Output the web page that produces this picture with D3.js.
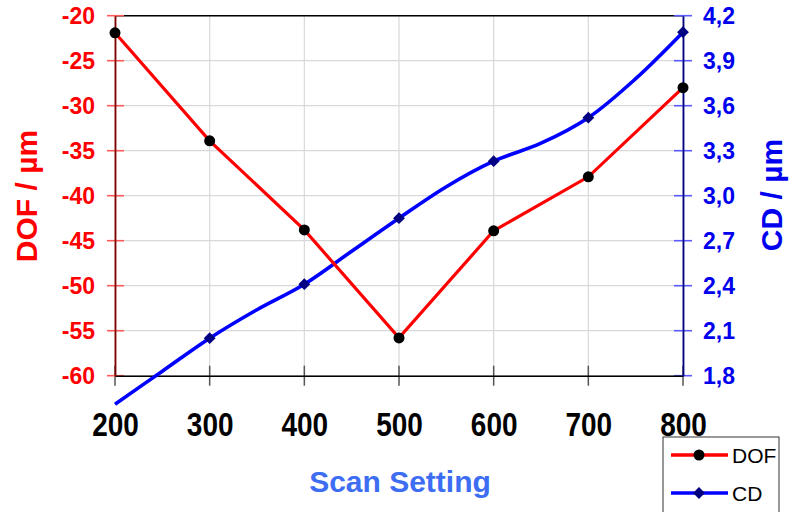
<!DOCTYPE html>
<html>
<head>
<meta charset="utf-8">
<script src="https://cdn.jsdelivr.net/npm/d3@7"></script>
<style>
  body { margin: 0; background: #fff; }
  svg { font-family: "Liberation Sans", Arial, sans-serif; }
</style>
</head>
<body>
<svg width="799" height="512"></svg>
<script>
// Data
const scan = [200, 300, 400, 500, 600, 700, 800];
const dof = [-21.9, -33.9, -43.8, -55.8, -43.9, -37.9, -28.0];

// CD curve sampled every 50, markers only at the hundreds
const cdScan = [200, 250, 300, 350, 400, 450, 500, 550, 600, 650, 700, 750, 800];
const cd = [1.61, 1.83, 2.05, 2.24, 2.41, 2.63, 2.85, 3.06, 3.23, 3.35, 3.52, 3.78, 4.09];

const xTicks = [200, 300, 400, 500, 600, 700, 800];
const dofTicks = [-60, -55, -50, -45, -40, -35, -30, -25, -20];
const cdTicks = [1.8, 2.1, 2.4, 2.7, 3.0, 3.3, 3.6, 3.9, 4.2];

const svg = d3.select("svg");
const plotL = 115, plotR = 683, plotT = 15.7, plotB = 375.7;

const x = d3.scaleLinear().domain([200, 800]).range([plotL, plotR]);
const yL = d3.scaleLinear().domain([-60, -20]).range([plotB, plotT]);
const yR = d3.scaleLinear().domain([1.8, 4.2]).range([plotB, plotT]);

// Gridlines
const grid = svg.append("g").attr("stroke", "#d9d9d9").attr("stroke-width", 1.2);
grid.selectAll(".h")
  .data(dofTicks)
  .enter()
  .append("line")
  .attr("x1", plotL).attr("x2", plotR)
  .attr("y1", (d) => yL(d)).attr("y2", (d) => yL(d));
grid.selectAll(".v")
  .data(xTicks)
  .enter()
  .append("line")
  .attr("y1", plotT).attr("y2", plotB)
  .attr("x1", (d) => x(d)).attr("x2", (d) => x(d));

// top border
svg.append("line")
  .attr("x1", plotL).attr("x2", plotR).attr("y1", plotT).attr("y2", plotT)
  .attr("stroke", "#000").attr("stroke-width", 1.5);

// Tick marks crossing the axes
svg.append("g")
  .selectAll("line")
  .data(xTicks)
  .enter()
  .append("line")
  .attr("x1", (d) => x(d)).attr("x2", (d) => x(d))
  .attr("y1", plotB - 10).attr("y2", plotB + 10)
  .attr("stroke", "#555").attr("stroke-width", 1.5);
svg.append("g")
  .selectAll("line")
  .data(dofTicks)
  .enter()
  .append("line")
  .attr("x1", plotL - 8).attr("x2", plotL + 9)
  .attr("y1", (d) => yL(d)).attr("y2", (d) => yL(d))
  .attr("stroke", "#ff5a5a").attr("stroke-width", 1.6);
svg.append("g")
  .selectAll("line")
  .data(cdTicks)
  .enter()
  .append("line")
  .attr("x1", plotR - 9).attr("x2", plotR + 9)
  .attr("y1", (d) => yR(d)).attr("y2", (d) => yR(d))
  .attr("stroke", "#5a5aff").attr("stroke-width", 1.6);

// Bottom axis
const xAxis = svg.append("g")
  .attr("transform", `translate(0,${plotB})`)
  .call(d3.axisBottom(x).tickValues(xTicks).tickSize(0).tickPadding(0).tickFormat((d) => String(d)));
xAxis.select(".domain").attr("stroke", "#000").attr("stroke-width", 1.5);
xAxis.selectAll(".tick line").remove();
xAxis.selectAll(".tick text")
  .attr("y", 0).attr("dy", 0)
  .attr("transform", "translate(0,60) scale(1,1.18)")
  .attr("fill", "#000")
  .attr("font-size", 28)
  .attr("font-weight", "bold");

// Left axis (DOF)
const lAxis = svg.append("g")
  .attr("transform", `translate(${plotL},0)`)
  .call(d3.axisLeft(yL).tickValues(dofTicks).tickSize(0).tickFormat((d) => String(d)));
lAxis.select(".domain").attr("stroke", "#800000").attr("stroke-width", 1.8);
lAxis.selectAll(".tick line").remove();
lAxis.selectAll(".tick text")
  .attr("x", -20)
  .attr("dy", "0.36em")
  .attr("fill", "#ff0000")
  .attr("font-size", 23)
  .attr("font-weight", "bold");

// Right axis (CD)
const rAxis = svg.append("g")
  .attr("transform", `translate(${plotR},0)`)
  .call(d3.axisRight(yR).tickValues(cdTicks).tickSize(0).tickFormat((d) => d3.format(".1f")(d).replace(".", ",")));
rAxis.select(".domain").attr("stroke", "#000080").attr("stroke-width", 1.8);
rAxis.selectAll(".tick line").remove();
rAxis.selectAll(".tick text")
  .attr("x", 20)
  .attr("dy", "0.36em")
  .attr("fill", "#0000ee")
  .attr("font-size", 23)
  .attr("font-weight", "bold");

// CD series
svg.append("path")
  .datum(cdScan.map((s, i) => [s, cd[i]]))
  .attr("fill", "none")
  .attr("stroke", "#0000ff")
  .attr("stroke-width", 3.6)
  .attr("d", d3.line().x((d) => x(d[0])).y((d) => yR(d[1])).curve(d3.curveCatmullRom));

// DOF series
svg.append("path")
  .datum(scan.map((s, i) => [s, dof[i]]))
  .attr("fill", "none")
  .attr("stroke", "#ff0000")
  .attr("stroke-width", 3.2)
  .attr("d", d3.line().x((d) => x(d[0])).y((d) => yL(d[1])));

const cdMarks = cdScan.map((s, i) => [s, cd[i]]).filter((d) => d[0] % 100 === 0 && d[1] >= 1.8);
svg.append("g")
  .selectAll("path")
  .data(cdMarks)
  .enter()
  .append("path")
  .attr("d", d3.symbol(d3.symbolSquare, 70))
  .attr("transform", (d) => `translate(${x(d[0])},${yR(d[1])}) rotate(45)`)
  .attr("fill", "#000080");

svg.append("g")
  .selectAll("circle")
  .data(scan.map((s, i) => [s, dof[i]]))
  .enter()
  .append("circle")
  .attr("cx", (d) => x(d[0]))
  .attr("cy", (d) => yL(d[1]))
  .attr("r", 5.5)
  .attr("fill", "#000");

// Axis titles
svg.append("text")
  .attr("transform", "translate(37,196) rotate(-90)")
  .attr("text-anchor", "middle")
  .attr("fill", "#ff0000")
  .attr("font-size", 30)
  .attr("font-weight", "bold")
  .text("DOF / µm");

svg.append("text")
  .attr("transform", "translate(782,195) rotate(-90)")
  .attr("text-anchor", "middle")
  .attr("fill", "#0000ee")
  .attr("font-size", 30)
  .attr("font-weight", "bold")
  .text("CD / µm");

svg.append("text")
  .attr("x", 400)
  .attr("y", 492)
  .attr("text-anchor", "middle")
  .attr("fill", "#3d6df2")
  .attr("font-size", 30)
  .attr("font-weight", "bold")
  .text("Scan Setting");

// Legend
const legend = svg.append("g");
legend.append("rect")
  .attr("x", 663).attr("y", 437).attr("width", 116).attr("height", 90)
  .attr("fill", "#fff").attr("stroke", "#333").attr("stroke-width", 1);

const legendItems = [
  { name: "DOF", color: "#ff0000", y: 455, marker: "circle" },
  { name: "CD", color: "#0000ff", y: 493, marker: "diamond" },
];
legendItems.forEach((d) => {
  legend.append("line")
    .attr("x1", 671).attr("x2", 728).attr("y1", d.y).attr("y2", d.y)
    .attr("stroke", d.color).attr("stroke-width", 3.5);
  if (d.marker === "circle") {
    legend.append("circle").attr("cx", 699).attr("cy", d.y).attr("r", 5.5).attr("fill", "#000");
  } else {
    legend.append("path")
      .attr("d", d3.symbol(d3.symbolSquare, 70))
      .attr("transform", `translate(699,${d.y}) rotate(45)`)
      .attr("fill", "#000080");
  }
  legend.append("text")
    .attr("x", 732).attr("y", d.y).attr("dy", "0.36em")
    .attr("font-size", 21)
    .attr("fill", "#000")
    .text(d.name);
});
</script>
</body>
</html>
